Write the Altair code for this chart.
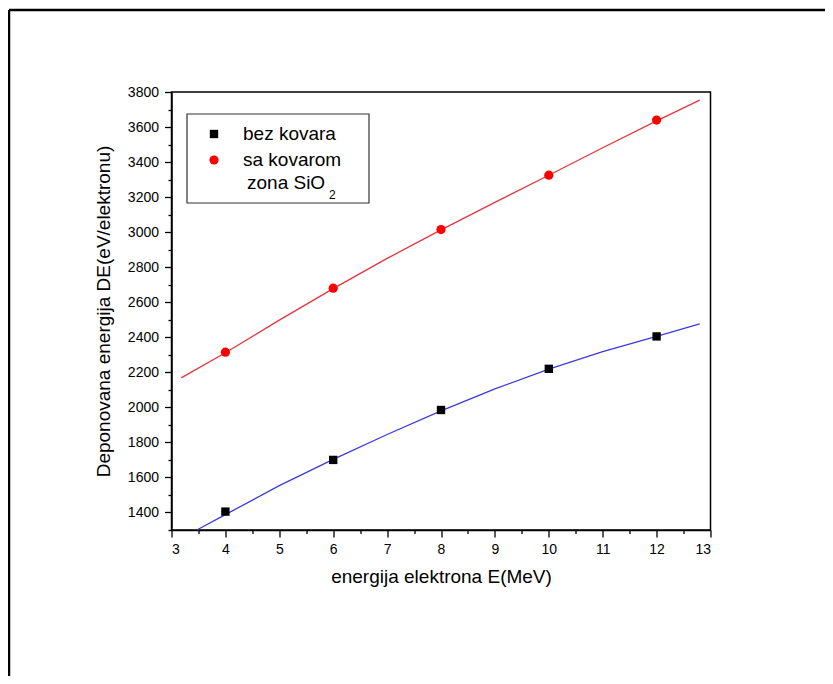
import altair as alt
import pandas as pd

# ---- data ----
energy = [4, 6, 8, 10, 12]
bez_kovara = [1405, 1700, 1985, 2220, 2405]
sa_kovarom = [2315, 2680, 3015, 3325, 3640]

fit_bez_x = [3.47, 4, 5, 6, 7, 8, 9, 10, 11, 12, 12.8]
fit_bez_y = [1300, 1388, 1553, 1703, 1845, 1980, 2105, 2218, 2318, 2405, 2476]
fit_sa_x = [3.18, 4, 5, 6, 7, 8, 9, 10, 11, 12, 12.8]
fit_sa_y = [2168, 2312, 2498, 2678, 2850, 3013, 3170, 3325, 3482, 3635, 3754]

x_major = [3, 4, 5, 6, 7, 8, 9, 10, 11, 12, 13]
x_minor = [3.5, 4.5, 5.5, 6.5, 7.5, 8.5, 9.5, 10.5, 11.5, 12.5]
y_major = [1400, 1600, 1800, 2000, 2200, 2400, 2600, 2800, 3000, 3200, 3400, 3600, 3800]
y_minor = [1300, 1500, 1700, 1900, 2100, 2300, 2500, 2700, 2900, 3100, 3300, 3500, 3700]

legend_labels = ["bez kovara", "sa kovarom", "zona SiO", "2"]

FONT = "Liberation Sans"
W, H = 539, 438

pts = pd.DataFrame({"E": energy, "bez": bez_kovara, "sa": sa_kovarom})
fb = pd.DataFrame({"E": fit_bez_x, "v": fit_bez_y})
fs = pd.DataFrame({"E": fit_sa_x, "v": fit_sa_y})
one = pd.DataFrame({"k": [0]})

xs = alt.Scale(domain=[3, 13], nice=False, zero=False)
ys = alt.Scale(domain=[1300, 3800], nice=False, zero=False)

x_axis = alt.Axis(values=x_major, format="d", orient="bottom", grid=False,
                  tickSize=7, tickWidth=1.3, tickColor="black",
                  domainColor="black", domainWidth=1.5,
                  labelFont=FONT, labelFontSize=14, labelColor="black", labelPadding=5,
                  title="energija elektrona E(MeV)", titleFont=FONT, titleFontSize=19,
                  titleFontWeight="normal", titleColor="black", titlePadding=11)
y_axis = alt.Axis(values=y_major, format="d", orient="left", grid=False,
                  tickSize=7, tickWidth=1.3, tickColor="black",
                  domainColor="black", domainWidth=1.5,
                  labelFont=FONT, labelFontSize=14, labelColor="black", labelPadding=6,
                  title="Deponovana energija  DE(eV/elektronu)", titleFont=FONT,
                  titleFontSize=19, titleFontWeight="normal", titleColor="black",
                  titlePadding=14)

x_minor_axis = alt.Axis(values=x_minor, orient="bottom", grid=False, labels=False,
                        tickSize=3.5, tickWidth=1.3, tickColor="black", domain=False, title="")
y_minor_axis = alt.Axis(values=y_minor, orient="left", grid=False, labels=False,
                        tickSize=3.5, tickWidth=1.3, tickColor="black", domain=False, title="")

line_bez = alt.Chart(fb).mark_line(color="#3a3ae0", strokeWidth=1.3).encode(
    x=alt.X("E:Q", scale=xs, axis=x_axis),
    y=alt.Y("v:Q", scale=ys, axis=y_axis),
)
line_sa = alt.Chart(fs).mark_line(color="#e8343e", strokeWidth=1.3).encode(
    x=alt.X("E:Q", scale=xs, axis=None), y=alt.Y("v:Q", scale=ys, axis=None))

sq = alt.Chart(pts).mark_point(shape="square", filled=True, color="black", size=70, opacity=1).encode(
    x=alt.X("E:Q", scale=xs, axis=None), y=alt.Y("bez:Q", scale=ys, axis=None))
circ = alt.Chart(pts).mark_point(shape="circle", filled=True, color="#ff0000", size=85, opacity=1).encode(
    x=alt.X("E:Q", scale=xs, axis=None), y=alt.Y("sa:Q", scale=ys, axis=None))

minor = alt.Chart(pts).mark_point(opacity=0).encode(
    x=alt.X("E:Q", scale=xs, axis=x_minor_axis),
    y=alt.Y("bez:Q", scale=ys, axis=y_minor_axis),
)

# legend (drawn by hand inside the plot)
leg_box = alt.Chart(one).mark_rect(fill="white", stroke="#333333", strokeWidth=1.2).encode(
    x=alt.value(15.5), x2=alt.value(197.5), y=alt.value(22), y2=alt.value(111))
leg_sq = alt.Chart(one).mark_point(shape="square", filled=True, color="black", size=70, opacity=1).encode(
    x=alt.value(42.5), y=alt.value(42))
leg_circ = alt.Chart(one).mark_point(shape="circle", filled=True, color="#ff0000", size=85, opacity=1).encode(
    x=alt.value(42.5), y=alt.value(68))
tstyle = dict(font=FONT, fontSize=19, color="black", align="left", baseline="middle")
leg_t1 = alt.Chart(one).mark_text(text=legend_labels[0], **tstyle).encode(x=alt.value(71.5), y=alt.value(42))
leg_t2 = alt.Chart(one).mark_text(text=legend_labels[1], **tstyle).encode(x=alt.value(71.5), y=alt.value(68))
leg_t3 = alt.Chart(one).mark_text(text=legend_labels[2], **tstyle).encode(x=alt.value(75.5), y=alt.value(91))
leg_t4 = alt.Chart(one).mark_text(text=legend_labels[3], font=FONT, fontSize=12, color="black",
                                  align="left", baseline="middle").encode(x=alt.value(157.5), y=alt.value(103))

# outer page frame (top and left edges)
frame_top = alt.Chart(one).mark_rule(color="black", strokeWidth=2.5).encode(
    x=alt.value(-162.5), x2=alt.value(700), y=alt.value(-82))
frame_left = alt.Chart(one).mark_rule(color="black", strokeWidth=2.5).encode(
    x=alt.value(-162.5), y=alt.value(-82), y2=alt.value(620))

chart = alt.layer(
    line_bez, line_sa, sq, circ, minor,
    leg_box, leg_sq, leg_circ, leg_t1, leg_t2, leg_t3, leg_t4,
    frame_top, frame_left,
).resolve_axis(x="independent", y="independent").properties(
    width=W, height=H,
    autosize=alt.AutoSizeParams(type="none"),
    padding={"left": 163.5, "top": 84, "right": 114.5, "bottom": 146},
    background="white",
).configure_view(stroke="black", strokeWidth=1.5)

chart.save("out.html", embed_options={"renderer": "svg", "actions": False})
